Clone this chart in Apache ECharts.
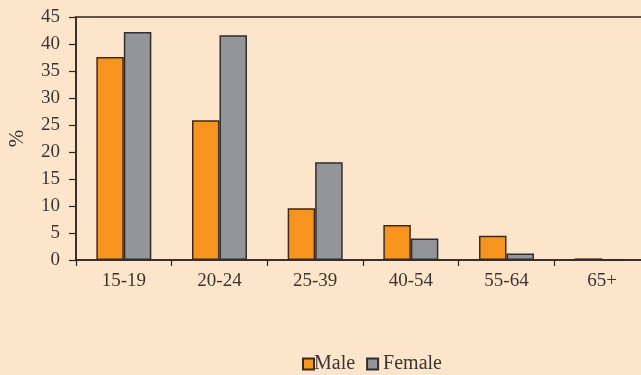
<!DOCTYPE html>
<html>
<head>
<meta charset="utf-8">
<script src="https://cdn.jsdelivr.net/npm/echarts@6/dist/echarts.min.js"></script>
<style>
  html, body { margin: 0; padding: 0; background: #fde5cc; }
  #chart { width: 641px; height: 375px; }
</style>
</head>
<body>
<div id="chart"></div>
<script>
// Age groups and shares (%) by sex
const ageGroups = ['15-19', '20-24', '25-39', '40-54', '55-64', '65+'];
const maleValues = [37.6, 25.9, 9.6, 6.5, 4.5, 0.3];
const femaleValues = [42.2, 41.6, 18.1, 4.0, 1.2, 0];
const yTicks = { min: 0, max: 45, interval: 5 };

const textColor = '#3b3532';
const lineColor = '#2b2522';
const serif = '"Liberation Serif", "DejaVu Serif", serif';

const chart = echarts.init(document.getElementById('chart'));
chart.setOption({
  backgroundColor: '#fde5cc',
  animation: false,
  grid: {
    left: 76, top: 17, width: 574, height: 243,
    outerBoundsMode: 'none',
    containLabel: false,
    show: true, borderColor: lineColor, borderWidth: 1.5,
    backgroundColor: 'transparent'
  },
  legend: {
    top: 354, left: 302,
    itemWidth: 11, itemHeight: 11, itemGap: 11,
    icon: 'rect',
    padding: 0,
    textStyle: { fontFamily: serif, fontSize: 20, color: textColor },
    data: [
      { name: 'Male', textStyle: { padding: [0, 0, 0, -5] } },
      { name: 'Female', textStyle: { padding: [0, 0, 0, 0] } }
    ]
  },
  xAxis: {
    type: 'category',
    data: ageGroups,
    axisLine: { lineStyle: { color: lineColor, width: 1.5 } },
    axisTick: { show: true, length: 6, inside: false, lineStyle: { color: lineColor, width: 1.2 } },
    axisLabel: { fontFamily: serif, fontSize: 19, color: textColor, margin: 12 },
    splitLine: { show: false }
  },
  yAxis: {
    type: 'value',
    min: yTicks.min, max: yTicks.max, interval: yTicks.interval,
    name: '%',
    nameLocation: 'middle',
    nameGap: 48,
    nameRotate: 90,
    nameTextStyle: { fontFamily: serif, fontSize: 21, color: textColor },
    axisLine: { show: true, lineStyle: { color: lineColor, width: 1.5 } },
    axisTick: { show: true, length: 7, lineStyle: { color: lineColor, width: 1.2 } },
    axisLabel: { fontFamily: serif, fontSize: 19, color: textColor, margin: 16 },
    splitLine: { show: false }
  },
  series: [
    {
      name: 'Male', type: 'bar', data: maleValues,
      barWidth: 27.5, barGap: '0%',
      itemStyle: { color: '#f7941d', borderColor: '#3d2a1a', borderWidth: 1.5 }
    },
    {
      name: 'Female', type: 'bar', data: femaleValues,
      barWidth: 27.5, barGap: '0%',
      itemStyle: { color: '#939598', borderColor: '#2e2e30', borderWidth: 1.5 }
    }
  ]
});
</script>
</body>
</html>
